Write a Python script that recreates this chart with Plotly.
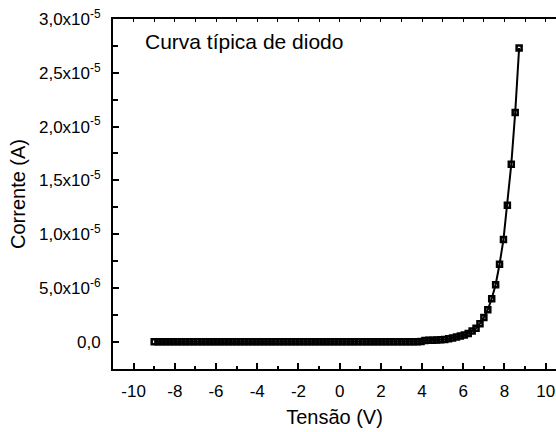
import plotly.graph_objects as go

voltage = [-9.00, -8.81, -8.62, -8.43, -8.24, -8.05, -7.86, -7.67, -7.48, -7.29,
           -7.10, -6.90, -6.71, -6.52, -6.33, -6.14, -5.95, -5.76, -5.57, -5.38,
           -5.19, -5.00, -4.81, -4.62, -4.43, -4.24, -4.05, -3.86, -3.67, -3.48,
           -3.29, -3.10, -2.90, -2.71, -2.52, -2.33, -2.14, -1.95, -1.76, -1.57,
           -1.38, -1.19, -1.00, -0.81, -0.62, -0.43, -0.24, -0.05, 0.14, 0.33,
           0.52, 0.71, 0.90, 1.10, 1.29, 1.48, 1.67, 1.86, 2.05, 2.24,
           2.43, 2.62, 2.81, 3.00, 3.19, 3.38, 3.57, 3.76, 3.95, 4.14,
           4.33, 4.52, 4.71, 4.90, 5.10, 5.29, 5.48, 5.67, 5.86, 6.05,
           6.24, 6.43, 6.62, 6.81, 7.00, 7.19, 7.38, 7.57, 7.76, 7.95,
           8.14, 8.33, 8.52, 8.71]

current = [0.0, 0.0, 0.0, 0.0, 0.0, 0.0, 0.0, 0.0, 0.0, 0.0,
           0.0, 0.0, 0.0, 0.0, 0.0, 0.0, 0.0, 0.0, 0.0, 0.0,
           0.0, 0.0, 0.0, 0.0, 0.0, 0.0, 0.0, 0.0, 0.0, 0.0,
           0.0, 0.0, 0.0, 0.0, 0.0, 0.0, 0.0, 0.0, 0.0, 0.0,
           0.0, 0.0, 0.0, 0.0, 0.0, 0.0, 0.0, 0.0, 0.0, 0.0,
           0.0, 0.0, 0.0, 0.0, 0.0, 0.0, 0.0, 0.0, 0.0, 0.0,
           0.0, 0.0, 0.0, 0.0, 0.0, 0.0, 0.0, 0.0, 0.02e-6, 0.13e-6,
           0.14e-6, 0.15e-6, 0.16e-6, 0.18e-6, 0.22e-6, 0.28e-6, 0.35e-6, 0.44e-6, 0.54e-6, 0.62e-6,
           0.76e-6, 1.00e-6, 1.25e-6, 1.68e-6, 2.25e-6, 2.98e-6, 4.00e-6, 5.30e-6, 7.20e-6, 9.50e-6,
           12.7e-6, 16.5e-6, 21.3e-6, 27.3e-6]

y_tickvals = [0, 5e-6, 1e-5, 1.5e-5, 2e-5, 2.5e-5, 3e-5]
y_ticktext = ["0,0", "5,0x10<sup>-6</sup>", "1,0x10<sup>-5</sup>", "1,5x10<sup>-5</sup>",
              "2,0x10<sup>-5</sup>", "2,5x10<sup>-5</sup>", "3,0x10<sup>-5</sup>"]
x_tickvals = [-10, -8, -6, -4, -2, 0, 2, 4, 6, 8, 10]

FONT = "Liberation Sans, Arial, sans-serif"

fig = go.Figure()
fig.add_trace(go.Scatter(
    x=voltage, y=current, mode="lines+markers",
    line=dict(color="black", width=2),
    marker=dict(symbol="square-open", size=5, color="black", line=dict(color="black", width=2.5)),
    showlegend=False,
))
fig.add_trace(go.Scatter(x=[None], y=[None], xaxis="x2", yaxis="y", showlegend=False))

fig.add_annotation(text="Curva típica de diodo", x=-9.55, y=2.79e-5, xref="x", yref="y",
                   xanchor="left", yanchor="middle", showarrow=False,
                   font=dict(family=FONT, size=21, color="black"))

fig.update_layout(
    width=556, height=432,
    margin=dict(l=113, r=0, t=19, b=63),
    paper_bgcolor="white", plot_bgcolor="white",
    font=dict(family=FONT, size=17, color="black"),
    xaxis=dict(
        range=[-11, 10.5], tickvals=x_tickvals, ticktext=[str(v) for v in x_tickvals],
        ticks="inside", ticklen=6, tickwidth=1.5, tickcolor="black",
        showline=True, linecolor="black", linewidth=2, showgrid=False, zeroline=False,
        ticklabelstandoff=6, tickfont=dict(size=17),
        minor=dict(ticks="inside", ticklen=3, tickwidth=1.5, tickcolor="black", dtick=1, tick0=0, showgrid=False),
        title=dict(text="Tensão (V)", font=dict(size=20), standoff=10),
    ),
    xaxis2=dict(
        overlaying="x", side="top", anchor="y", range=[-11, 10.5],
        showline=True, linecolor="black", linewidth=2, showgrid=False, zeroline=False,
        showticklabels=False, ticks="inside", ticklen=3, tickwidth=1, tickcolor="black",
        dtick=1, tick0=0,
    ),
    yaxis=dict(
        range=[-2.53e-6, 3.0e-5], tickvals=y_tickvals, ticktext=y_ticktext,
        ticks="inside", ticklen=6, tickwidth=1.5, tickcolor="black",
        showline=True, linecolor="black", linewidth=2, showgrid=False, zeroline=False,
        ticklabelstandoff=7, tickfont=dict(size=17),
        minor=dict(ticks="inside", ticklen=5, tickwidth=1.5, tickcolor="black", dtick=2.5e-6, tick0=0, showgrid=False),
        title=dict(text="Corrente (A)", font=dict(size=20), standoff=8),
    ),
)

fig.write_html("out.html")
